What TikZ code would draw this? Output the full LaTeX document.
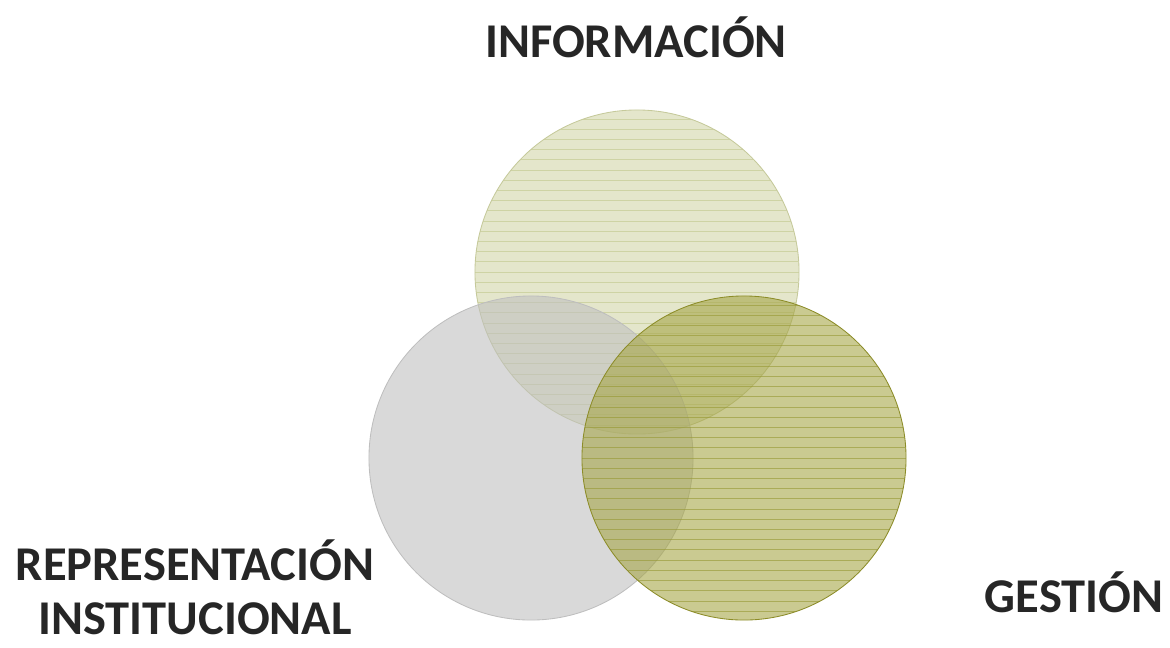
\documentclass[tikz,border=0pt]{standalone}
\usepackage{fontspec}
\setmainfont{Carlito}
\definecolor{infoFill}{RGB}{210,214,168}
\definecolor{infoLine}{RGB}{192,198,140}
\definecolor{infoEdge}{RGB}{197,201,154}
\definecolor{reprFill}{RGB}{192,192,192}
\definecolor{reprEdge}{RGB}{190,190,190}
\definecolor{gestFill}{RGB}{166,166,72}
\definecolor{gestLine}{RGB}{150,152,50}
\definecolor{gestEdge}{RGB}{140,140,40}
\definecolor{labelGray}{RGB}{38,38,38}
\begin{document}
\begin{tikzpicture}[x=0.025cm,y=-0.025cm]
	\tikzset{circ/.style = {shape=circle, minimum size=8.1cm, inner sep=0pt, fill opacity=0.6, line width=0.6pt}}
	\tikzset{stripes/.style = {path picture={\foreach \k in {-16,...,16}
		\draw[#1, line width=0.5pt, draw opacity=0.6] ([yshift=\k*0.255cm]path picture bounding box.west) -- ([yshift=\k*0.255cm]path picture bounding box.east);}}}
	\tikzset{title/.style = {text=labelGray, font=\fontsize{34.5}{38}\selectfont\bfseries, align=center, anchor=base, inner sep=0pt, text depth=0pt}}

	\useasboundingbox (0,0) rectangle (1170,647);

	\node[circ, draw=infoEdge, fill=infoFill, stripes=infoLine] (info) at (637,272) {};
	\node[circ, draw=reprEdge, fill=reprFill] (repr) at (531,458) {};
	\node[circ, draw=gestEdge, fill=gestFill, stripes=gestLine] (gest) at (744,458) {};

	\node[title] (infoText) at (636,57) {INFORMACIÓN};
	\node[title] (reprText) at (195,634) {REPRESENTACIÓN\\INSTITUCIONAL};
	\node[title] (gestText) at (1074,612) {GESTIÓN};

\end{tikzpicture}
\end{document}
